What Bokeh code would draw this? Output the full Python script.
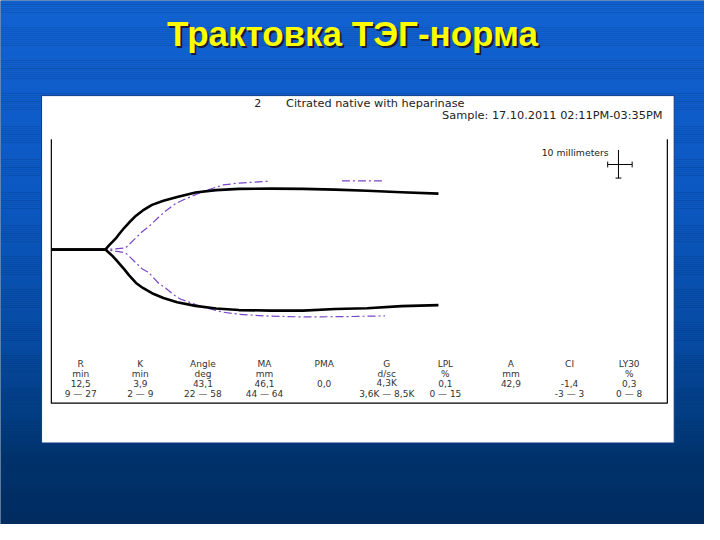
import numpy as np
from bokeh.plotting import figure
from bokeh.models import Range1d, Label, ColumnDataSource
from bokeh.embed import file_html
from bokeh.resources import INLINE
from bokeh.core.properties import value

# ---------------- data ----------------
title_text = "Трактовка ТЭГ-норма"
sample_no = "2"
sample_desc = "Citrated native with heparinase"
sample_time = "Sample: 17.10.2011 02:11PM-03:35PM"
scale_label = "10 millimeters"

# patient trace (time in min, half-amplitude in mm above / below baseline)
trace_time = [0, 11.8, 12.6, 13.4, 14.2, 15.0, 16.0, 17.0, 18.5, 20.0, 22.0, 24.5,
              27.5, 31.5, 36.0, 41.0, 48.0, 55.0, 62.0, 69.0, 76.5, 84.6]
trace_upper = [0, 0, 1.6, 3.0, 4.5, 6.3, 8.4, 10.3, 12.9, 14.9, 17.0, 18.6,
               20.0, 21.7, 22.6, 23.1, 23.2, 23.1, 22.8, 22.4, 21.8, 21.3]
trace_lower = [0, 0, 1.2, 2.5, 4.0, 5.6, 7.6, 9.8, 12.7, 14.6, 16.6, 18.4,
               20.0, 21.4, 22.4, 23.0, 23.2, 23.2, 22.6, 22.3, 21.5, 21.1]

# reference (normal) trace
ref_time = [0, 11.8, 16.2, 19.9, 21.2, 23.5, 24.8, 26.9, 28.3, 30.6, 33.3, 37.6,
            41.0, 47.6, 55.0, 63.5, 72.9]
ref_upper = [0, 0, 0.6, 6.9, 8.6, 12.4, 14.4, 17.2, 18.5, 20.2, 22.2, 24.6,
             25.3, 26.0, float("nan"), 26.1, 26.1]
ref_lower = [0, 0, 1.2, 7.4, 8.6, 12.9, 14.4, 17.4, 18.9, 20.3, 22.0, 23.8,
             24.6, 25.3, 25.6, 25.5, 25.2]

param_names = ["R", "K", "Angle", "MA", "PMA", "G", "LPL", "A", "CI", "LY30"]
param_units = ["min", "min", "deg", "mm", "", "d/sc", "%", "mm", "", "%"]
param_values = ["12,5", "3,9", "43,1", "46,1", "0,0", "4,3K", "0,1", "42,9", "-1,4", "0,3"]
param_ranges = ["9 — 27", "2 — 9", "22 — 58", "44 — 64", "", "3,6K — 8,5K",
                "0 — 15", "", "-3 — 3", "0 — 8"]

# ---------------- layout ----------------
SW, SH = 720.0, 540.0   # slide coordinate space
PX_MIN = 4.68   # slide px per minute
PX_MM = 2.71    # slide px per mm
X0, Y0 = 52.0, 256.7
col_x = [82, 143, 207, 270, 331, 395, 455, 522, 582, 643]
row_y = [374.5, 384.5, 394.5, 405]

p = figure(width=704, height=524, x_range=Range1d(0, SW), y_range=Range1d(SH, 0),
           output_backend="svg", toolbar_location=None, min_border=0,
           x_axis_location=None, y_axis_location=None)
p.outline_line_color = None
p.grid.visible = False
p.background_fill_color = "#002c60"
p.border_fill_color = "#002c60"

p.extra_x_ranges = {"t": Range1d((0 - X0) / PX_MIN, (SW - X0) / PX_MIN)}
p.extra_y_ranges = {"a": Range1d(-(SH - Y0) / PX_MM, (Y0 - 0) / PX_MM)}

# slide gradient background
stops_y = [0, 200, 350, 440, 470, 540]
stops_c = [(18, 98, 210), (12, 88, 194), (6, 74, 162), (2, 58, 124), (0, 51, 108), (0, 44, 96)]
ys = np.arange(0, 542, 2.0)
cols = []
for yv in ys:
    c = [np.interp(yv, stops_y, [s[i] for s in stops_c]) for i in range(3)]
    cols.append("#%02x%02x%02x" % tuple(int(round(v)) for v in c))
p.quad(left=0, right=SW, top=ys, bottom=ys + 2.2, fill_color=cols, line_color=None)

# white image panel
p.quad(left=[42], right=[689], top=[98], bottom=[456], fill_color="white",
       line_color="#0a3a8a", line_width=1)

# inner frame
p.line([52, 52, 682, 682], [143, 415, 415, 143], line_color="black", line_width=1.2)

# scale cross
p.segment(x0=[621, 632, 621, 646, 629], y0=[169, 154, 166, 166, 183],
          x1=[646, 632, 621, 646, 635], y1=[169, 183, 172, 172, 183],
          line_color="black", line_width=1)

# traces
p.line(ref_time, ref_upper, x_range_name="t", y_range_name="a",
       line_color="#7b45cc", line_width=1.2, line_dash="8 3 2 3")
p.line(ref_time, [-v for v in ref_lower], x_range_name="t", y_range_name="a",
       line_color="#7b45cc", line_width=1.2, line_dash="8 3 2 3")
p.line(trace_time, trace_upper, x_range_name="t", y_range_name="a",
       line_color="black", line_width=2.6, line_join="round")
p.line(trace_time, [-v for v in trace_lower], x_range_name="t", y_range_name="a",
       line_color="black", line_width=2.6, line_join="round")

# header texts
hdr_font = "DejaVu Sans"
p.add_layout(Label(x=263, y=106, text=sample_no, text_font=hdr_font, text_font_size="11px",
                   text_align="center", text_baseline="middle", text_color="#222222"))
p.add_layout(Label(x=292, y=106, text=sample_desc, text_font=hdr_font, text_font_size="11.3px",
                   text_align="left", text_baseline="middle", text_color="#222222"))
p.add_layout(Label(x=677, y=119, text=sample_time, text_font=hdr_font, text_font_size="11.3px",
                   text_align="right", text_baseline="middle", text_color="#222222"))
p.add_layout(Label(x=622, y=157, text=scale_label, text_font=hdr_font, text_font_size="9.3px",
                   text_align="right", text_baseline="middle", text_color="#222222"))

# parameter table
rows = [param_names, param_units, param_values, param_ranges]
tx, ty, tt = [], [], []
for r, row in enumerate(rows):
    for c, txt in enumerate(row):
        tx.append(col_x[c]); ty.append(row_y[r]); tt.append(txt)
src = ColumnDataSource(dict(x=tx, y=ty, text=tt))
p.text(x="x", y="y", text="text", source=src, text_font=value("DejaVu Sans"),
       text_font_size="9px", text_align="center", text_baseline="middle",
       text_color="#333333")

# title with shadow
p.add_layout(Label(x=362, y=36, text=title_text, text_font="Liberation Sans",
                   text_font_style="bold", text_font_size="35px", text_align="center",
                   text_baseline="middle", text_color="#1a1a3a"))
p.add_layout(Label(x=360, y=34, text=title_text, text_font="Liberation Sans",
                   text_font_style="bold", text_font_size="35px", text_align="center",
                   text_baseline="middle", text_color="#ffff00"))

open("out.html", "w").write(file_html(p, INLINE))
